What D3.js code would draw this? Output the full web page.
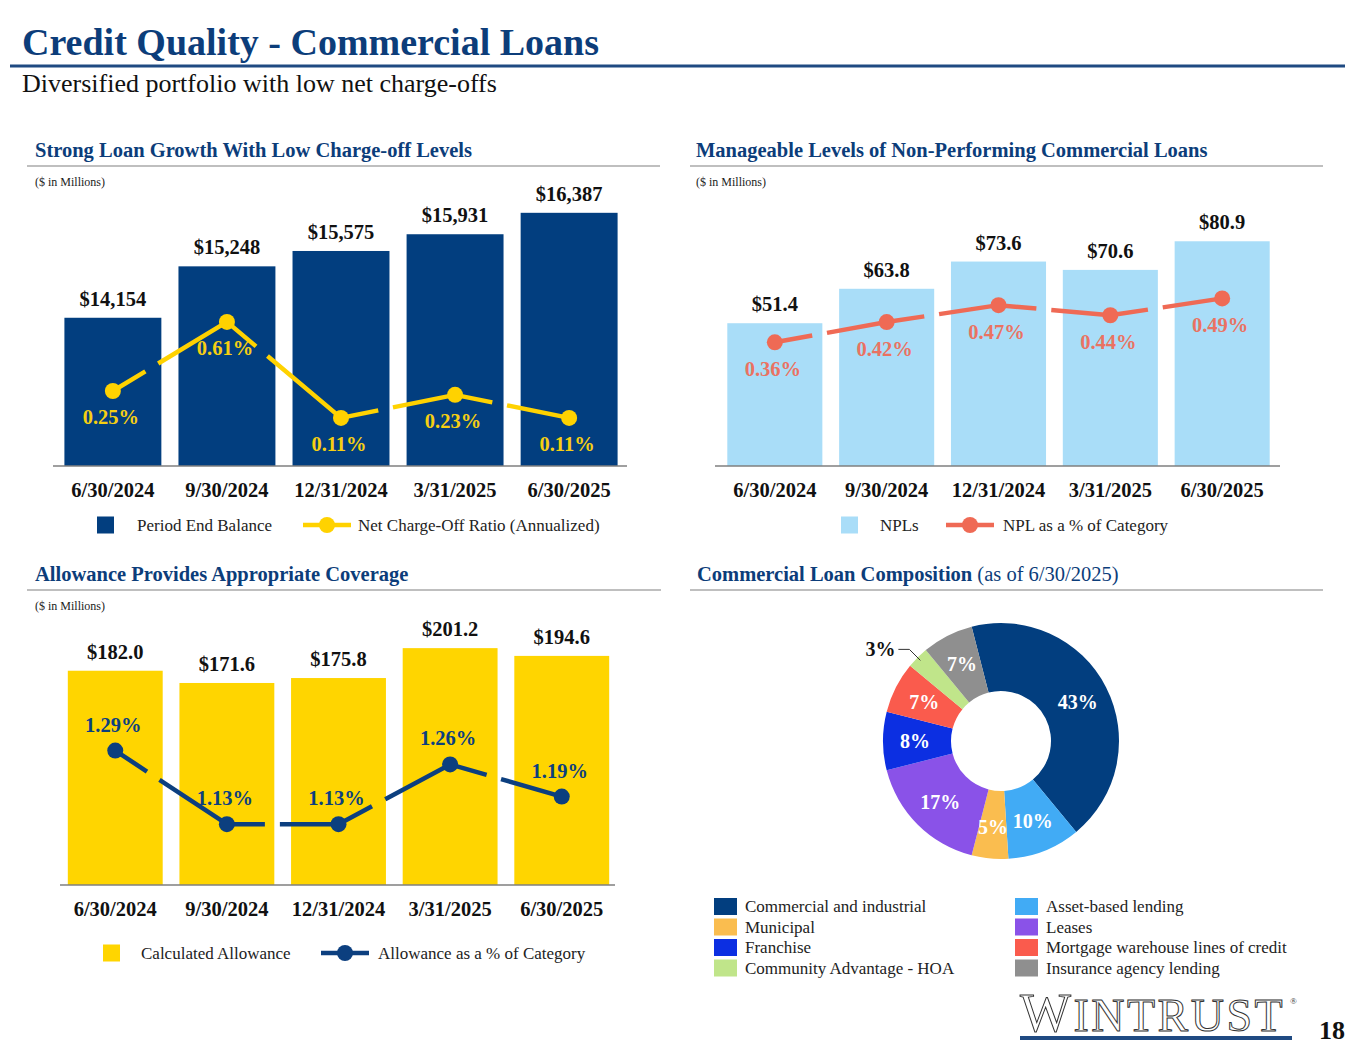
<!DOCTYPE html>
<html>
<head>
<meta charset="utf-8">
<script src="https://cdn.jsdelivr.net/npm/d3@7"></script>
<style>
  body { margin: 0; background: #fff; }
  svg { display: block; font-family: "Liberation Serif", "Times New Roman", serif; }
</style>
</head>
<body>
<div id="visDiv"></div>
<script>
// DATA
var quarters = ['6/30/2024', '9/30/2024', '12/31/2024', '3/31/2025', '6/30/2025'];
var loanBalance = [14154, 15248, 15575, 15931, 16387];
var ncoRatio = [0.25, 0.61, 0.11, 0.23, 0.11];
var nplValues = [51.4, 63.8, 73.6, 70.6, 80.9];
var nplPct = [0.36, 0.42, 0.47, 0.44, 0.49];
var allowance = [182.0, 171.6, 175.8, 201.2, 194.6];
var allowancePct = [1.29, 1.13, 1.13, 1.26, 1.19];
var mixNames = ['Commercial and industrial', 'Asset-based lending', 'Municipal', 'Leases',
  'Franchise', 'Mortgage warehouse lines of credit', 'Community Advantage - HOA', 'Insurance agency lending'];
var mixShare = [43, 10, 5, 17, 8, 7, 3, 7];

(function () {
  var W = 1365, H = 1055,
    navy = '#023e7f',
    titleBlue = '#0c3d7a';

  var svg = d3.select('#visDiv').append('svg')
    .attr('width', W).attr('height', H);

  // header
  svg.append('text').attr('x', 22).attr('y', 55)
    .attr('font-size', 38).attr('font-weight', 'bold').attr('fill', titleBlue)
    .text('Credit Quality - Commercial Loans');
  svg.append('line').attr('x1', 10).attr('x2', 1345).attr('y1', 66).attr('y2', 66)
    .attr('stroke', '#1f4a82').attr('stroke-width', 3);
  svg.append('text').attr('x', 22).attr('y', 92)
    .attr('font-size', 26).attr('fill', '#111')
    .text('Diversified portfolio with low net charge-offs');

  function panelHead(x, y, x1, x2, title, extra, millions) {
    var t = svg.append('text').attr('x', x).attr('y', y)
      .attr('font-size', 20.5).attr('fill', titleBlue);
    t.append('tspan').attr('font-weight', 'bold').text(title);
    if (extra) t.append('tspan').attr('fill', titleBlue).text(extra);
    svg.append('line').attr('x1', x1).attr('x2', x2).attr('y1', y + 9).attr('y2', y + 9)
      .attr('stroke', '#bfbfbf').attr('stroke-width', 2);
    if (millions) {
      svg.append('text').attr('x', x).attr('y', y + 29)
        .attr('font-size', 12).attr('fill', '#222').text('($ in Millions)');
    }
  }

  panelHead(35, 157, 27, 660, 'Strong Loan Growth With Low Charge-off Levels', null, true);
  panelHead(696, 157, 690, 1323, 'Manageable Levels of Non-Performing Commercial Loans', null, true);
  panelHead(35, 581, 27, 661, 'Allowance Provides Appropriate Coverage', null, true);
  panelHead(697, 581, 690, 1323, 'Commercial Loan Composition', ' (as of 6/30/2025)', false);

  // combo chart: bars + dashed line with markers
  function combo(o) {
    var g = svg.append('g');
    var x = d3.scaleBand().domain(quarters).range(o.xr).paddingInner(0.15).paddingOuter(o.po);
    var y = d3.scaleLinear().domain(o.yd).range(o.yr);
    var y2 = d3.scaleLinear().domain(o.y2d).range(o.y2r);

    g.selectAll('rect.bar').data(o.bars).enter().append('rect')
      .attr('class', 'bar')
      .attr('x', function (d, i) { return x(quarters[i]); })
      .attr('width', x.bandwidth())
      .attr('y', function (d) { return y(d); })
      .attr('height', function (d) { return o.yr[0] - y(d); })
      .attr('fill', o.barColor);

    g.selectAll('text.val').data(o.bars).enter().append('text')
      .attr('x', function (d, i) { return x(quarters[i]) + x.bandwidth() / 2; })
      .attr('y', function (d) { return y(d) - 12; })
      .attr('text-anchor', 'middle').attr('font-size', 20.5).attr('font-weight', 'bold')
      .attr('fill', '#111')
      .text(o.barFmt);

    // axis
    var axis = g.append('g').attr('transform', 'translate(0,' + o.yr[0] + ')')
      .call(d3.axisBottom(x).tickSize(0).tickPadding(20));
    axis.select('.domain').attr('stroke', '#7f7f7f').attr('stroke-width', 1.5)
      .attr('d', 'M' + o.xr[0] + ',0H' + (o.xr[1] - 2));
    axis.selectAll('.tick text')
      .attr('font-family', '"Liberation Serif", "Times New Roman", serif')
      .attr('font-size', 20.5).attr('font-weight', 'bold').attr('fill', '#111')
      .attr('dy', 0).attr('y', o.catY - o.yr[0]);

    var pts = o.line.map(function (d, i) {
      return [x(quarters[i]) + x.bandwidth() / 2, y2(d)];
    });
    // segments drawn one by one so each dash pattern starts at a point
    for (var i = 0; i < pts.length - 1; i++) {
      g.append('line')
        .attr('x1', pts[i][0]).attr('y1', pts[i][1])
        .attr('x2', pts[i + 1][0]).attr('y2', pts[i + 1][1])
        .attr('stroke', o.lineColor).attr('stroke-width', 4.5)
        .attr('stroke-dasharray', '38 15 400 0');
    }
    g.selectAll('circle.pt').data(pts).enter().append('circle')
      .attr('cx', function (d) { return d[0]; })
      .attr('cy', function (d) { return d[1]; })
      .attr('r', 8).attr('fill', o.lineColor);

    g.selectAll('text.pct').data(o.line).enter().append('text')
      .attr('x', function (d, i) { return pts[i][0] - 2; })
      .attr('y', function (d, i) { return pts[i][1] + o.pctDy; })
      .attr('text-anchor', 'middle').attr('font-size', 20.5).attr('font-weight', 'bold')
      .attr('fill', o.pctColor)
      .text(function (d) { return d.toFixed(2) + '%'; });

    // legend
    var ly = o.legendY;
    g.append('rect').attr('x', o.leg[0]).attr('y', ly - 8.5).attr('width', 17).attr('height', 17)
      .attr('fill', o.barColor);
    g.append('text').attr('x', o.leg[1]).attr('y', ly + 6).attr('font-size', 17).attr('fill', '#222')
      .text(o.names[0]);
    g.append('line').attr('x1', o.leg[2]).attr('x2', o.leg[2] + 48).attr('y1', ly).attr('y2', ly)
      .attr('stroke', o.lineColor).attr('stroke-width', 4.5);
    g.append('circle').attr('cx', o.leg[2] + 24).attr('cy', ly).attr('r', 8).attr('fill', o.lineColor);
    g.append('text').attr('x', o.leg[3]).attr('y', ly + 6).attr('font-size', 17).attr('fill', '#222')
      .text(o.names[1]);
  }

  var fmtComma = d3.format(',');

  combo({
    xr: [53, 629], po: 0.1,
    bars: loanBalance, yd: [11000, 17000], yr: [466, 184],
    barColor: navy, barFmt: function (d) { return '$' + fmtComma(d); },
    line: ncoRatio, y2d: [0, 1], y2r: [439, 247],
    lineColor: '#ffd200', pctColor: '#f6cf12', pctDy: 33,
    catY: 497, legendY: 525, leg: [97, 137, 303, 358],
    names: ['Period End Balance', 'Net Charge-Off Ratio (Annualized)']
  });

  combo({
    xr: [715, 1282], po: 0.11,
    bars: nplValues, yd: [0, 90], yr: [466, 216],
    barColor: '#a9ddf8', barFmt: function (d) { return '$' + d.toFixed(1); },
    line: nplPct, y2d: [0, 1], y2r: [464, 126],
    lineColor: '#ef6a55', pctColor: '#ea7262', pctDy: 34,
    catY: 497, legendY: 525, leg: [841, 880, 946, 1003],
    names: ['NPLs', 'NPL as a % of Category']
  });

  combo({
    xr: [60, 617], po: 0.07,
    bars: allowance, yd: [0, 220], yr: [885, 626],
    barColor: '#ffd500', barFmt: function (d) { return '$' + d.toFixed(1); },
    line: allowancePct, y2d: [1.0, 1.5], y2r: [884, 654],
    lineColor: '#0c3f7f', pctColor: '#0c3f7f', pctDy: -19,
    catY: 916, legendY: 953, leg: [103, 141, 321, 378],
    names: ['Calculated Allowance', 'Allowance as a % of Category']
  });

  // donut
  var mixColors = ['#023e7f', '#41abf5', '#fabd4f', '#8a52e8', '#0c2fe2', '#fa5b4d', '#c0e58a', '#8f8f8f'];
  var cx = 1001, cy = 741, R = 118, r = 50;
  var start = -14.4 * Math.PI / 180;
  var pie = d3.pie().sort(null).startAngle(start).endAngle(start + 2 * Math.PI);
  var arcs = pie(mixShare);
  var arc = d3.arc().innerRadius(r).outerRadius(R);
  var labelArc = d3.arc().innerRadius(86).outerRadius(86);
  var dg = svg.append('g').attr('transform', 'translate(' + cx + ',' + cy + ')');
  dg.selectAll('path').data(arcs).enter().append('path')
    .attr('d', arc).attr('fill', function (d, i) { return mixColors[i]; });
  dg.selectAll('text').data(arcs).enter().append('text')
    .filter(function (d) { return d.data >= 5; })
    .attr('transform', function (d) {
      var c = labelArc.centroid(d);
      return 'translate(' + c[0] + ',' + c[1] + ')';
    })
    .attr('text-anchor', 'middle').attr('dy', '0.35em')
    .attr('font-size', 20).attr('font-weight', 'bold').attr('fill', '#fff')
    .text(function (d) { return d.data + '%'; });
  // small slice label outside with leader
  arcs.forEach(function (d) {
    if (d.data >= 5) return;
    var p = d3.arc().innerRadius(R - 4).outerRadius(R - 4).centroid(d);
    var q = [p[0] - 11, p[1] - 11];
    dg.append('path')
      .attr('d', 'M' + p[0] + ',' + p[1] + 'L' + q[0] + ',' + q[1] + 'H' + (q[0] - 11))
      .attr('fill', 'none').attr('stroke', '#333').attr('stroke-width', 1);
    dg.append('text').attr('x', q[0] - 14).attr('y', q[1] + 7)
      .attr('text-anchor', 'end').attr('font-size', 20).attr('font-weight', 'bold').attr('fill', '#111')
      .text(d.data + '%');
  });

  // donut legend (two columns, row-major)
  var lg = svg.append('g');
  mixNames.forEach(function (n, i) {
    var col = i % 2, row = Math.floor(i / 2);
    var lx = col ? 1015 : 714, ly = 898 + row * 20.5;
    lg.append('rect').attr('x', lx).attr('y', ly).attr('width', 23).attr('height', 17)
      .attr('fill', mixColors[i]);
    lg.append('text').attr('x', lx + 31).attr('y', ly + 14).attr('font-size', 17).attr('fill', '#222')
      .text(n);
  });

  // logo + page number
  var logo = svg.append('text').attr('x', 1020).attr('y', 1031)
    .attr('fill', '#fff').attr('stroke', '#333').attr('stroke-width', 1)
    .attr('letter-spacing', 2.5);
  logo.append('tspan').attr('font-size', 54).text('W');
  logo.append('tspan').attr('font-size', 46).text('INTRUST');
  svg.append('text').attr('x', 1290).attr('y', 1004).attr('font-size', 9).attr('fill', '#333').text('®');
  svg.append('rect').attr('x', 1020).attr('y', 1036).attr('width', 272).attr('height', 4).attr('fill', '#1f4a82');
  svg.append('text').attr('x', 1319).attr('y', 1039)
    .attr('font-size', 26).attr('font-weight', 'bold').attr('fill', '#111').text('18');
}());
</script>
</body>
</html>
